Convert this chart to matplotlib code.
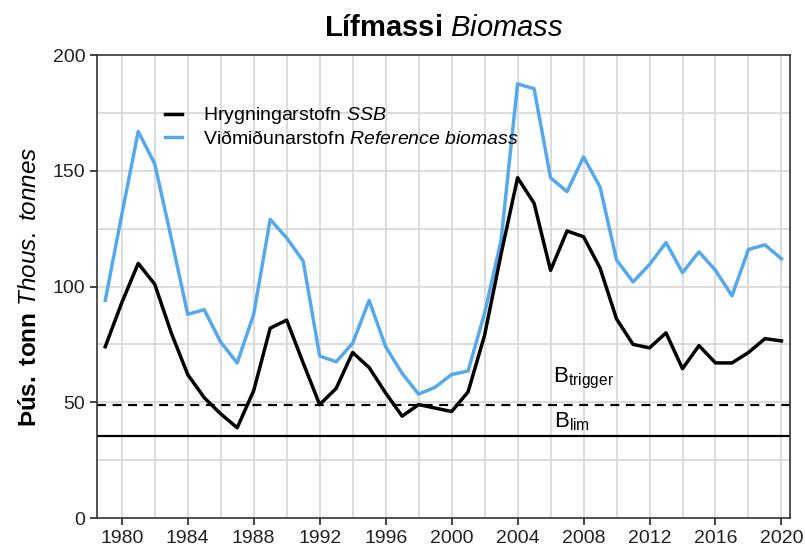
import matplotlib
matplotlib.use('Agg')
import matplotlib.pyplot as plt

# Gögn / data
ar = list(range(1979, 2021))
ssb = [74, 93, 110, 101, 80, 62, 52, 45, 39, 55,
       82, 85.5, 67, 49, 56, 71.5, 65, 54, 44, 49,
       47.5, 46, 54.5, 79, 114, 147, 136, 107, 124, 121.5,
       108, 86, 75, 73.5, 80, 64.5, 74.5, 67, 67, 71.5,
       77.5, 76.5]
ref_bio = [94, 131, 167, 153, 121, 88, 90, 76, 67, 88,
           129, 121, 111, 70, 67.5, 75.5, 94, 74, 62.5, 53.5,
           56.5, 62, 63.5, 88.5, 120, 187.5, 185.5, 147, 141, 156,
           143, 111.5, 102, 109.5, 119, 106, 115, 107, 96, 116,
           118, 112]
b_trigger = 49
b_lim = 35.5

plt.rcParams['font.family'] = ['Liberation Sans', 'DejaVu Sans']
plt.rcParams['mathtext.fontset'] = 'custom'
plt.rcParams['mathtext.rm'] = 'Liberation Sans'
plt.rcParams['mathtext.it'] = 'Liberation Sans:italic'
plt.rcParams['mathtext.bf'] = 'Liberation Sans:bold'

fig = plt.figure(figsize=(8.05, 5.56), dpi=100)
ax = fig.add_axes([0.1205, 0.0683, 0.8605, 0.8327])

# grid
for yr in range(1980, 2021, 2):
    ax.axvline(yr, color='#d9d9d9', lw=1.3, zorder=0)
for v in range(25, 200, 25):
    ax.axhline(v, color='#d9d9d9', lw=1.3, zorder=0)

ax.axhline(b_trigger, color='black', lw=1.6, ls=(0, (4, 3)), zorder=2)
ax.axhline(b_lim, color='black', lw=1.6, zorder=2)

ax.plot(ar, ref_bio, color='#55A9EA', lw=2.5, zorder=3,
        label=r'Viðmiðunarstofn $\it{Reference\ biomass}$')
ax.plot(ar, ssb, color='black', lw=2.5, zorder=4,
        label=r'Hrygningarstofn $\it{SSB}$')

ax.text(2008.0, 60.5, r'B$_{\mathrm{trigger}}$', fontsize=16, ha='center', va='center')
ax.text(2007.3, 41.5, r'B$_{\mathrm{lim}}$', fontsize=16, ha='center', va='center')

h, l = ax.get_legend_handles_labels()
ax.legend(h[::-1], l[::-1], loc='upper left', bbox_to_anchor=(0.075, 0.925),
          frameon=False, fontsize=14, handlelength=0.9, handletextpad=1.1,
          labelspacing=0.2, borderpad=0.3)

ax.set_xlim(1978.5, 2020.5)
ax.set_ylim(0, 200)
ax.set_xticks(range(1980, 2021, 4))
ax.set_yticks([0, 50, 100, 150, 200])
ax.tick_params(labelsize=14, colors='#222222', length=5, width=1.2)
for s in ax.spines.values():
    s.set_color('#333333')
    s.set_linewidth(1.2)

ax.set_ylabel(r'$\bf{Þús.\ tonn}$ $\it{Thous.\ tonnes}$', fontsize=17.5, labelpad=8)
ax.set_title(r'$\bf{Lífmassi}$ $\it{Biomass}$', fontsize=21, pad=14)

fig.savefig('out.png', dpi=100)
